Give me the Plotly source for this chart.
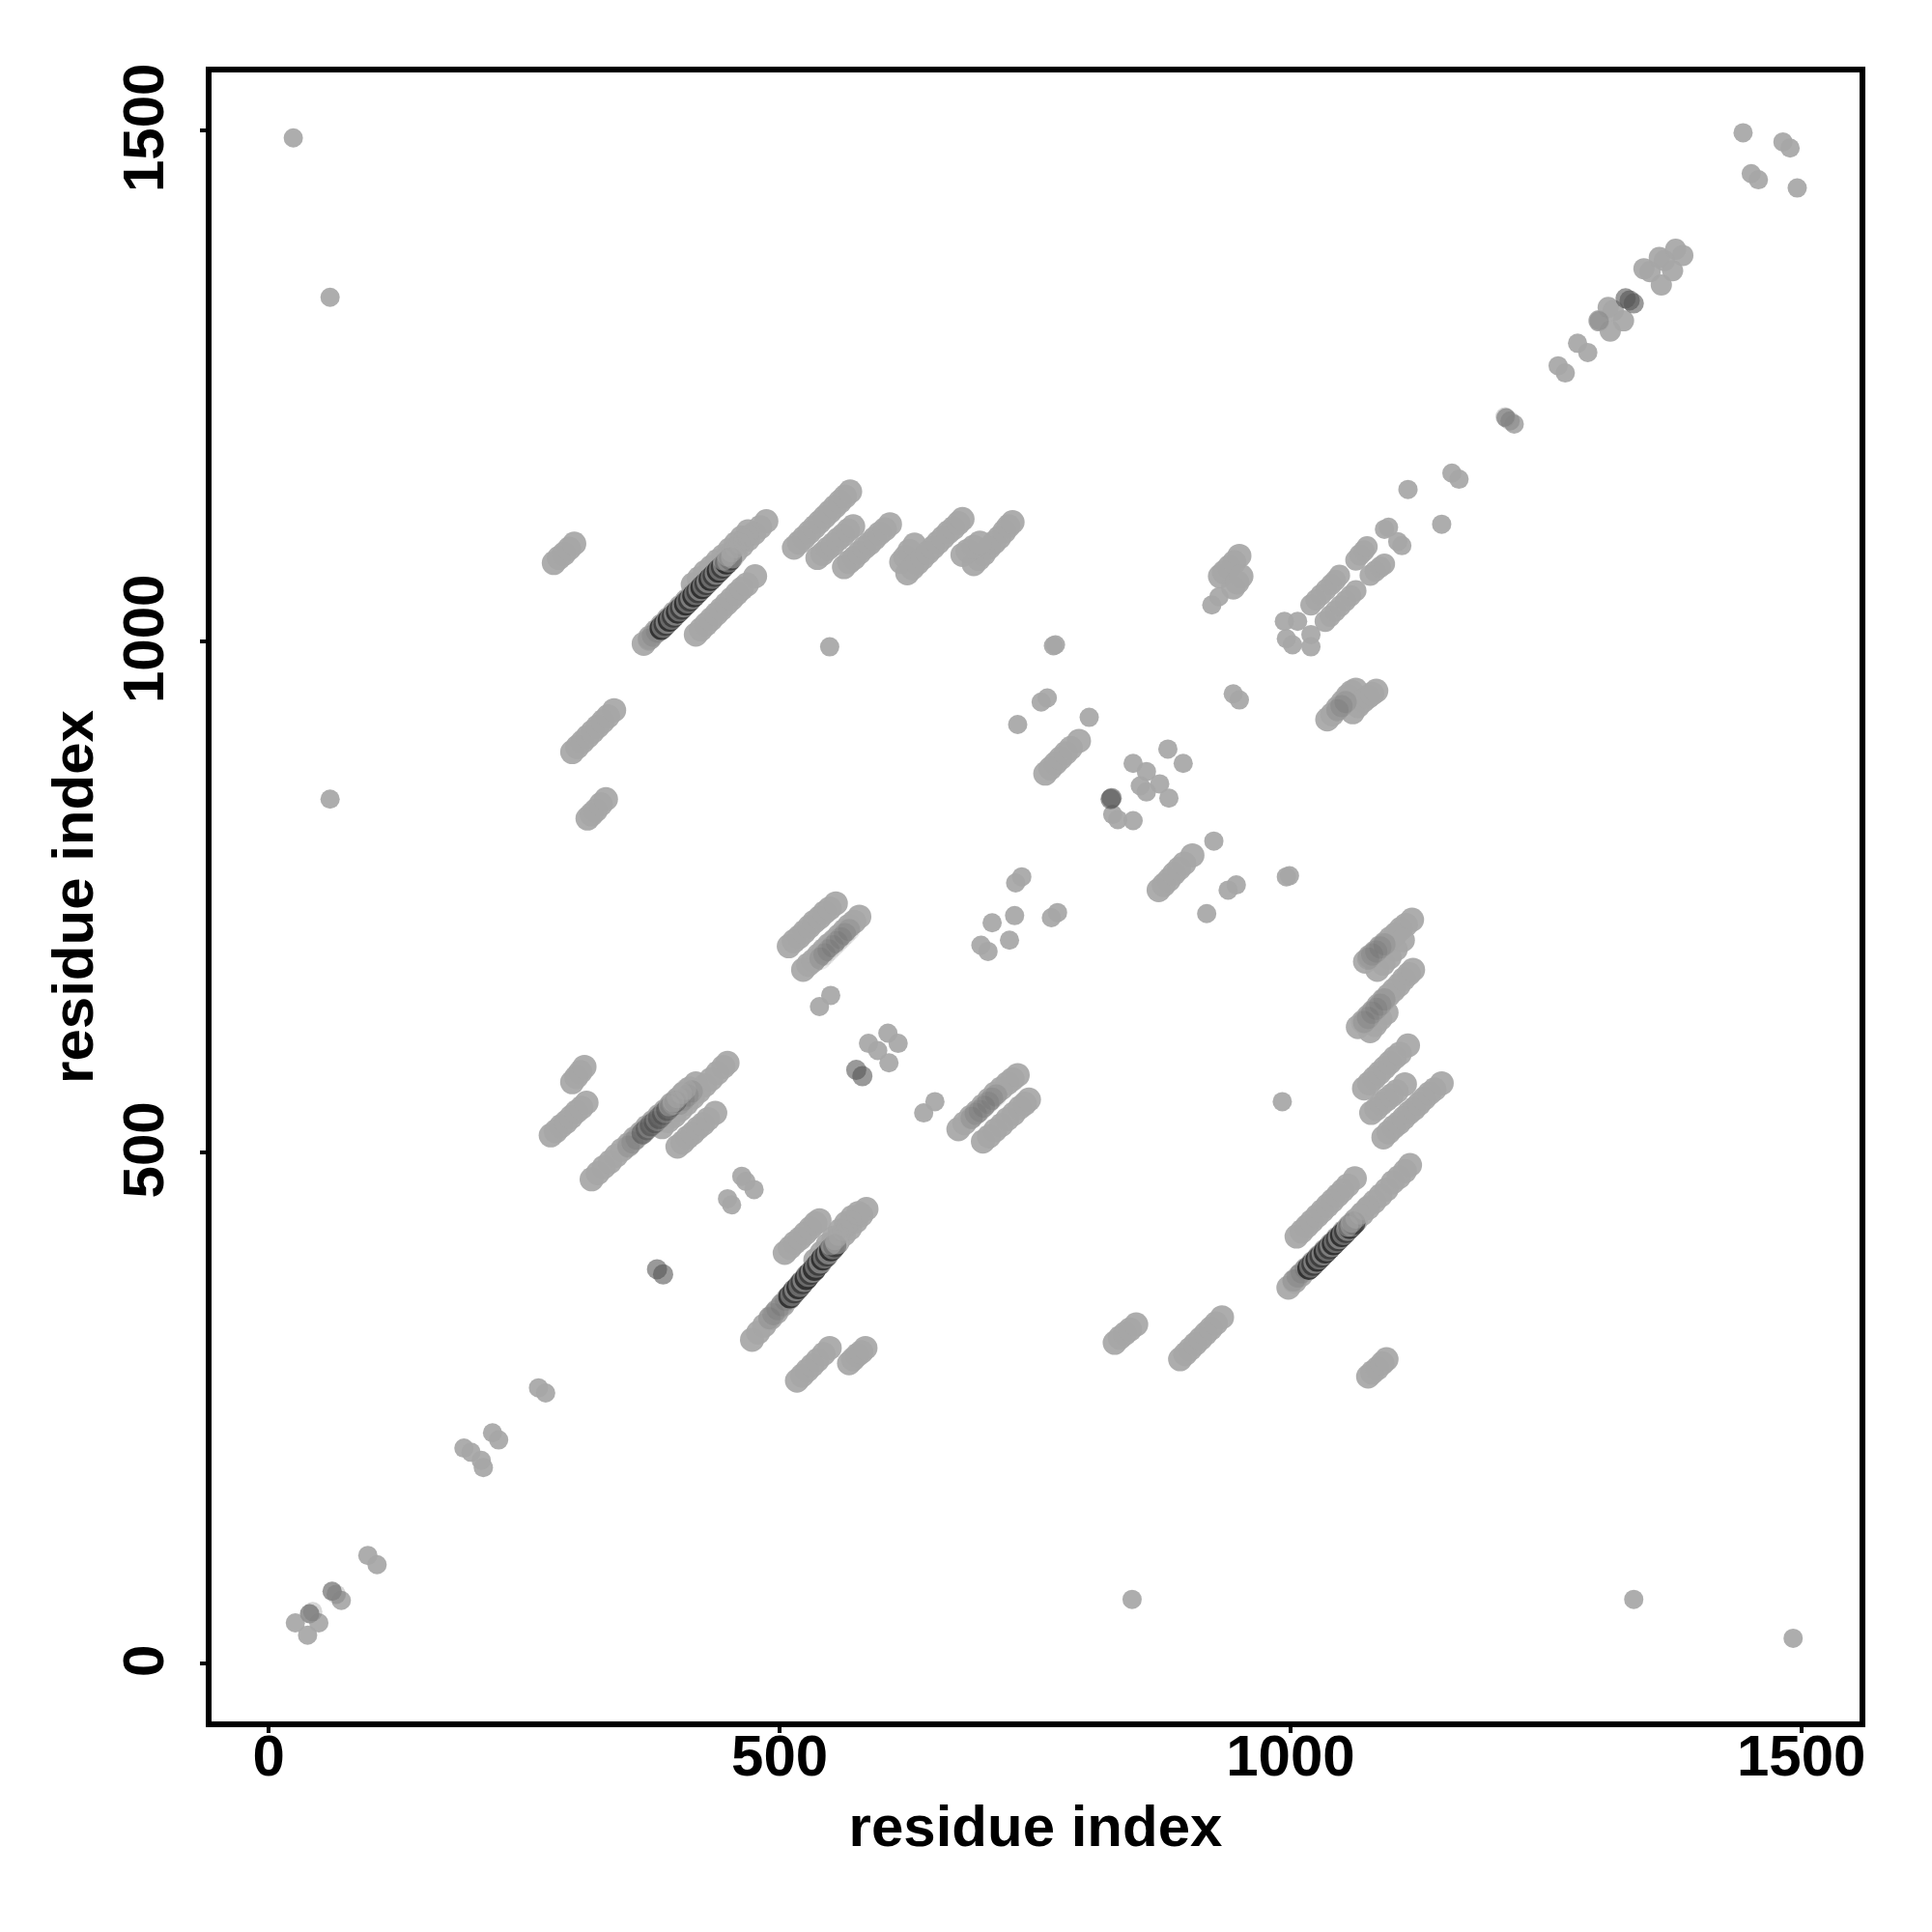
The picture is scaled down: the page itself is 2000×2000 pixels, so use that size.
import plotly.graph_objects as go

tick_values = [0, 500, 1000, 1500]
tick_labels = ["0", "500", "1000", "1500"]
axis_title = "residue index"

# diagonal and isolated contacts
diag_low = [(26,40),(38,28),(49,40),(40,49),(62,71),(71,62),(97,106),(106,97),(191,211),(198,207),(208,199),(210,192),(219,226),(225,219),(264,270),(271,265)]
diag_high = [(1211,1219),(1219,1213),(1262,1270),(1269,1263),(1281,1292),(1291,1283),(1443,1498),(1482,1489),(1489,1483),(1451,1458),(1458,1452),(1496,1444)]
diag_blobs = [(1302,1314),(1313,1304),(1311,1327),(1316,1324),(1326,1314),(1346,1365),(1352,1362),(1363,1349),(1374,1363),(1361,1376),(1366,1373),(1377,1384),(1384,1378)]
isolated = [(24,1493),(60,1337),(60,846),(845,63),(1336,63),(1492,25),(549,995),(992,550),(1115,1149),(1148,1115),(1158,1165),(1165,1159),(733,919),(803,926),(708,725),(725,708),(730,732),(918,734),(925,805)]
pairs = [(449,455),(453,449),(463,477),(467,472),(475,464),(539,643),(550,654),(587,607),(596,600),(607,588),(606,617),(616,607),(641,539),(652,550),(756,941),(762,945),(768,996),(770,997),(944,949),(950,943),(939,757),(947,762),(996,770),(999,771),(731,764),(737,770),(766,730),(772,735),(697,703),(704,697)]
center_cluster = [(826,831),(831,826),(846,825),(846,881),(859,873),(853,859),(859,853),(872,861),(881,847),(880,895),(895,881)]
upper_right_bits = [(994,1020),(1007,1020),(996,1003),(1002,997),(1020,1007),(1020,995),(923,1036),(930,1044),(1092,1110),(1096,1112),(1105,1098),(1109,1094)]

# long diagonal runs of contacts
run_s1 = [(473,317),(479,324),(485,331),(491,338),(497,344),(503,351),(509,358),(515,365),(521,372),(527,379),(533,385),(539,392),(545,399),(551,406),(557,413),(563,420),(569,426),(575,433),(580,439),(585,445)]
run_s1b = [(535,395),(541,402),(547,410),(553,417),(559,424),(565,431),(571,437),(577,441)]
run_s2 = [(505,402),(510,407),(515,412),(520,416),(525,421),(530,426),(535,431),(539,434)]
run_s3 = [(517,277),(522,282),(527,287),(532,292),(537,297),(543,303),(549,309)]
run_s4 = [(568,294),(572,298),(576,302),(580,305),(584,309)]
run_s12 = [(675,523),(681,529),(687,535),(693,540),(699,546),(705,552),(711,558),(717,563),(723,568),(728,572),(733,576)]
run_s13 = [(699,511),(705,516),(711,522),(717,527),(723,533),(729,538),(735,544),(740,548),(744,552)]
run_s14 = [(297,569),(301,574),(305,579),(309,584)]
run_s15 = [(276,517),(281,521),(286,526),(291,530),(296,535),(301,540),(306,544),(311,549)]
run_s16 = [(316,474),(322,480),(328,486),(334,491),(340,497),(346,503),(352,508),(358,514),(364,519),(370,525),(376,530),(382,536),(388,541),(394,547),(400,552),(406,558),(412,563),(418,568)]
run_s16b = [(385,525),(391,531),(397,536),(403,542),(409,548),(415,554),(421,560),(427,566),(433,572),(439,578),(445,584),(449,588)]
run_s17 = [(400,506),(405,510),(410,515),(415,519),(420,524),(425,528),(430,533),(437,539)]
run_s18 = [(297,892),(302,897),(307,902),(312,907),(317,912),(322,917),(327,922),(332,927),(338,933)]
run_s19 = [(312,827),(316,831),(320,835),(325,841),(330,846)]
run_s21 = [(279,1077),(284,1082),(289,1086),(294,1091),(299,1096)]
run_s22 = [(367,998),(373,1004),(379,1010),(385,1016),(391,1022),(397,1028),(403,1034),(409,1040),(415,1046),(421,1052),(427,1058),(433,1064),(439,1070),(445,1076),(451,1082),(457,1088),(463,1094),(469,1100),(475,1106),(481,1112),(487,1118)]
run_s22b = [(415,1056),(421,1062),(427,1068),(433,1073),(439,1079),(445,1084),(451,1090),(457,1096),(463,1102),(469,1108)]
run_s23 = [(418,1007),(423,1012),(428,1017),(433,1022),(438,1027),(443,1032),(448,1037),(453,1042),(458,1047),(463,1052),(468,1056),(476,1064)]
run_s24 = [(514,1092),(519,1097),(524,1102),(529,1107),(534,1112),(539,1117),(544,1122),(549,1127),(554,1132),(559,1137),(564,1142),(569,1147)]
run_s25 = [(537,1082),(542,1086),(547,1091),(552,1095),(557,1100),(562,1104),(567,1109),(572,1113)]
run_s26 = [(563,1073),(568,1078),(573,1082),(578,1087),(583,1092),(588,1096),(593,1101),(598,1106),(603,1110),(608,1115)]
run_s27 = [(619,1078),(623,1083),(627,1089),(632,1095)]
run_s28 = [(625,1067),(630,1072),(635,1077),(640,1082),(645,1087),(650,1092),(655,1097),(660,1102),(665,1107),(670,1111),(675,1116),(679,1120)]
run_s29 = [(690,1076),(695,1081),(700,1086),(705,1092),(710,1097),(715,1102),(720,1108),(724,1113),(728,1117)]
run_s29b = [(679,1085),(684,1089),(690,1093),(696,1097)]
run_s30 = [(931,1064),(935,1068),(940,1073),(945,1078),(950,1084)]
run_s30b = [(944,1053),(948,1058),(952,1064)]
run_s32 = [(1020,1036),(1025,1041),(1030,1046),(1035,1051),(1040,1056),(1044,1060),(1048,1065)]
run_s33 = [(1034,1020),(1039,1025),(1044,1030),(1049,1035),(1054,1040),(1059,1045),(1064,1050)]
run_s33b = [(1064,1080),(1068,1085),(1072,1089),(1075,1093)]
run_s33c = [(1078,1065),(1083,1069),(1088,1073),(1092,1076)]
run_m1 = [(1036,924),(1041,929),(1046,935),(1051,941),(1056,947),(1060,951),(1064,953)]
run_m2 = [(1061,931),(1066,937),(1071,942),(1076,946),(1080,949),(1084,952)]
run_m3 = [(760,871),(765,876),(770,881),(775,886),(780,891),(785,896),(793,903)]
run_m4 = [(871,757),(876,762),(881,767),(886,773),(891,778),(896,783),(904,791)]
run_l1 = [(509,702),(514,707),(519,711),(524,716),(529,721),(534,726),(539,730),(544,735),(549,739),(555,744)]
run_l2 = [(523,679),(528,684),(533,688),(538,693),(543,698),(548,703),(553,707),(558,712),(563,717),(568,722),(573,726),(578,731)]
run_r1 = [(1073,687),(1078,692),(1083,696),(1088,701),(1093,705),(1098,710),(1103,714),(1108,719),(1113,723),(1119,728)]
run_r1b = [(1085,679),(1091,685),(1097,691),(1103,699),(1110,708)]
run_r2 = [(1066,623),(1071,628),(1076,633),(1081,638),(1086,644),(1091,649),(1096,654),(1101,659),(1106,664),(1111,670),(1116,675),(1120,679)]
run_r2b = [(1078,619),(1083,625),(1088,631),(1094,637)]
run_r3 = [(1072,563),(1077,568),(1082,573),(1087,578),(1092,583),(1097,588),(1102,593),(1107,597),(1115,605)]
run_r4 = [(1079,539),(1084,543),(1089,548),(1094,552),(1099,556),(1104,560),(1112,567)]
run_r5 = [(1091,515),(1096,520),(1101,525),(1106,529),(1111,534),(1116,539),(1121,543),(1126,548),(1131,553),(1136,558),(1141,562),(1148,568)]
run_b1 = [(1006,418),(1011,423),(1016,428),(1021,433),(1026,438),(1031,443),(1036,448),(1041,453),(1046,458),(1051,463),(1056,468),(1063,475)]
run_b2 = [(998,368),(1004,374),(1010,380),(1016,386),(1022,392),(1028,398),(1034,404),(1040,410),(1046,416),(1052,422),(1058,428),(1064,434),(1070,440),(1076,446),(1082,452),(1088,458),(1094,464),(1100,471),(1106,476),(1112,482),(1117,488)]
run_b3 = [(1076,281),(1080,285),(1085,289),(1090,294),(1094,298)]
run_b4 = [(892,298),(897,303),(902,308),(907,313),(912,318),(917,323),(922,328),(927,333),(933,339)]
run_b5 = [(828,314),(833,319),(838,323),(843,327),(849,332)]

# darker contacts, drawn on top of the light runs
dark_tone = [(380,386),(386,381),(575,581),(581,575),(824,846),(825,847),(1328,1336),(1336,1331),(1332,1334)]
mid_low = [(40,49),(43,51),(62,71),(66,68),(1210,1220),(1215,1216),(1302,1314)]
shade_s22 = [(372,1002),(376,1006),(380,1010),(384,1014),(388,1018),(392,1022)]
shade_s1 = [(490,338),(494,342),(498,347),(502,351),(506,356)]
shade_b2 = [(1003,375),(1007,379),(1011,383),(1015,387)]
shade_s16 = [(352,506),(356,510),(360,514),(402,548),(406,552),(410,556),(414,560)]
shade_s12 = [(688,534),(692,538),(696,541),(700,545),(704,549),(708,553),(712,556)]
shade_l2 = [(540,690),(544,694),(548,698),(552,702),(556,706),(560,710),(564,714),(568,718)]
shade_r2 = [(1072,628),(1076,632),(1080,637),(1084,641),(1088,645),(1092,650)]
shade_r1 = [(1076,690),(1080,694),(1084,697),(1088,701),(1092,704)]
shade_m1 = [(1046,933),(1050,937),(1054,941)]
dense_a = [(384,1013),(386,1015),(388,1017),(390,1019),(392,1021),(394,1023),(396,1025),(398,1027),(400,1029),(402,1031),(404,1033),(406,1035),(408,1037),(410,1039),(412,1041),(414,1043),(416,1045),(418,1047),(420,1049),(422,1051),(424,1053),(426,1055),(428,1057),(430,1059),(432,1061),(434,1063),(436,1065),(438,1067),(440,1069),(442,1071),(444,1073),(446,1075),(448,1077),(450,1079),(452,1081),(454,1083)]
dense_b = [(510,359),(512,361),(514,364),(516,366),(518,368),(520,370),(522,373),(524,375),(526,377),(528,380),(530,382),(532,384),(534,386),(536,389),(538,391),(540,393),(542,396),(544,398),(546,400),(548,402),(550,405),(552,407),(554,409),(556,412)]
dense_c = [(1018,387),(1020,389),(1022,391),(1024,393),(1026,395),(1028,397),(1030,399),(1032,401),(1034,403),(1036,405),(1038,407),(1040,409),(1042,411),(1044,413),(1046,415),(1048,417),(1050,419),(1052,421),(1054,423),(1056,425),(1058,427),(1060,429),(1062,431)]
dense_d = [(366,519),(368,521),(370,523),(372,525),(374,527),(376,529),(378,530),(380,532),(382,534),(384,536),(386,538),(388,540),(390,542),(392,544),(394,546),(396,548),(398,550)]
cap_a = [(445,1080),(449,1084),(453,1088),(457,1092),(461,1096),(465,1100),(469,1104)]
cap_b = [(550,410),(554,415),(558,419),(562,424),(566,428),(570,433)]
cap_c = [(1056,428),(1060,432),(1064,436),(1068,440),(1072,444),(1076,448)]
cap_d = [(392,546),(396,550),(400,554),(404,558),(408,562)]

dots = diag_low + diag_high + isolated + pairs + center_cluster + upper_right_bits
narrow_runs = run_s32 + run_s33 + run_s33b + run_s33c
runs = (run_s1 + run_s1b + run_s2 + run_s3 + run_s4 + run_s12 + run_s13 + run_s14 + run_s15 + run_s16 + run_s16b + run_s17
    + run_s18 + run_s19 + run_s21 + run_s22 + run_s22b + run_s23 + run_s24 + run_s25 + run_s26 + run_s27 + run_s28 + run_s29 + run_s29b
    + run_s30 + run_s30b + run_m1 + run_m2 + run_m3 + run_m4 + run_l1 + run_l2
    + run_r1 + run_r1b + run_r2 + run_r2b + run_r3 + run_r4 + run_r5 + run_b1 + run_b2 + run_b3 + run_b4 + run_b5)
shaded = shade_s22 + shade_s1 + shade_b2 + shade_s16 + shade_s12 + shade_l2 + shade_r2 + shade_r1 + shade_m1
dense_strong = dense_a + dense_b + dense_c
caps = cap_a + cap_b + cap_c + cap_d

fig = go.Figure()
def add_points(points, colour, size):
    fig.add_trace(go.Scatter(
        x=[p[0] for p in points], y=[p[1] for p in points], mode="markers", showlegend=False,
        marker=dict(size=size, color=colour, line=dict(width=0)),
    ))

light = "rgba(166,166,166,0.92)"
stripe_cycle = ["rgba(25,25,25,0.75)", "rgba(120,120,120,0.8)", "rgba(45,45,45,0.7)", "rgba(175,175,175,0.55)"]
weak_cycle = ["rgba(25,25,25,0.28)", "rgba(120,120,120,0.3)", "rgba(45,45,45,0.28)", "rgba(175,175,175,0.3)"]
add_points(dots, light, 20)
add_points(diag_blobs, light, 22)
add_points(narrow_runs, light, 22)
add_points(runs, light, 25)
add_points(mid_low, "rgba(90,90,90,0.25)", 20)
add_points(shaded, "rgba(70,70,70,0.12)", 23)
add_points(dark_tone, "rgba(85,85,85,0.6)", 21)
add_points(dense_d, [weak_cycle[i % 4] for i in range(len(dense_d))], 23)
add_points(dense_strong, [stripe_cycle[i % 4] for i in range(len(dense_strong))], 24)
add_points(caps, "rgba(166,166,166,0.55)", 22)

font_main = dict(family="Liberation Sans", size=60, color="black", weight="bold")
axis_common = dict(
    tickmode="array", tickvals=tick_values, ticktext=tick_labels, ticks="outside", ticklen=6, tickwidth=4,
    tickcolor="black", showline=True, linecolor="black", linewidth=6, mirror=True, showgrid=False, zeroline=False,
    tickfont=font_main,
)
fig.update_layout(
    width=2000, height=2000, autosize=False, paper_bgcolor="white", plot_bgcolor="white",
    margin=dict(l=210.7, r=83, t=67, b=226.3),
    xaxis=dict(range=[-56, 1557], ticklabelstandoff=-28, title=dict(text=axis_title, font=font_main, standoff=21), **axis_common),
    yaxis=dict(range=[-56.4, 1557], tickangle=-90, ticklabelstandoff=14, ticklabelshift=6, title=dict(text=axis_title, font=font_main, standoff=1), **axis_common),
)
fig.write_html("out.html")
